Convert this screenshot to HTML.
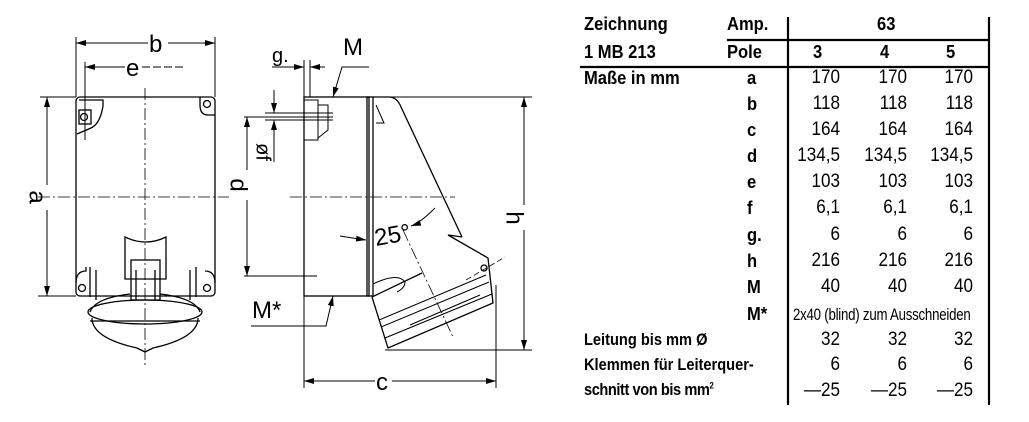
<!DOCTYPE html>
<html><head><meta charset="utf-8"><style>
html,body{margin:0;padding:0;background:#fff;width:1029px;height:422px;overflow:hidden}
svg{position:absolute;left:0;top:0}
.t{position:absolute;font-family:"Liberation Sans",sans-serif;color:#000;white-space:nowrap}
.b{font-weight:bold;font-size:18px;transform:scaleX(0.92);transform-origin:left}
.v{font-size:19px;text-align:right;width:70px;transform:scaleX(0.9);transform-origin:right}
.l{font-size:17px;font-weight:bold;transform:scaleX(0.86);transform-origin:left}
</style></head><body>
<svg width="1029" height="422" viewBox="0 0 1029 422">
<defs><marker id="ar" viewBox="0 0 10 6" refX="10" refY="3" markerWidth="10" markerHeight="6" orient="auto-start-reverse" markerUnits="userSpaceOnUse"><path d="M0,0 L10,3 L0,6 z" fill="#000"/></marker></defs>
<g fill="none" stroke="#000" stroke-width="1.3">
<!-- front view -->
<rect x="76" y="97" width="139" height="199" rx="4"/>
<line x1="76" y1="37" x2="76" y2="97" stroke-width="1"/><line x1="215" y1="37" x2="215" y2="97" stroke-width="1"/>
<line x1="76" y1="43" x2="148" y2="43" marker-start="url(#ar)" stroke-width="1"/><line x1="168" y1="43" x2="215" y2="43" marker-end="url(#ar)" stroke-width="1"/>
<line x1="85" y1="67" x2="125" y2="67" marker-start="url(#ar)" stroke-width="1"/><line x1="142" y1="67" x2="185" y2="67" stroke-width="1" stroke-dasharray="8 3"/>
<line x1="85" y1="62" x2="85" y2="140" stroke-width="1"/>
<line x1="40" y1="97" x2="76" y2="97" stroke-width="1"/><line x1="38" y1="296" x2="76" y2="296" stroke-width="1"/>
<line x1="47" y1="97" x2="47" y2="185" marker-start="url(#ar)" stroke-width="1"/><line x1="47" y1="210" x2="47" y2="296" marker-end="url(#ar)" stroke-width="1"/>
<line x1="145" y1="88" x2="145" y2="368" stroke-width="0.8" stroke-dasharray="12 3 2 3"/>
<line x1="38" y1="197" x2="229" y2="197" stroke-width="0.8" stroke-dasharray="12 3 2 3"/>
<path d="M79,100 h24 v6 q-3,18 -12,22 l-14,6" /><rect x="79" y="110" width="12" height="14"/><circle cx="84" cy="117" r="3.5"/>
<path d="M200,97 v8 q0,10 8,10 h7"/><circle cx="207" cy="104" r="3.5"/>
<path d="M76,283 q0,-12 10,-12 v-4 M90,267 v30 M96,270 v30"/><circle cx="82" cy="288" r="3.5"/>
<path d="M215,283 q0,-12 -10,-12 M196,267 v30 M190,270 v30"/><circle cx="207" cy="288" r="3.5"/>
<path d="M125,237 v42 h41 v-42 q-20,10 -41,0 z"/>
<rect x="131" y="260" width="29" height="40"/><line x1="136" y1="270" x2="136" y2="300"/><line x1="155" y1="270" x2="155" y2="300"/>
<path d="M90,312 q5,-14 40,-18 M200,312 q-5,-14 -40,-18"/>
<ellipse cx="145" cy="312" rx="57" ry="12"/>
<path d="M92,318 q0,20 45,30 l8,4 l8,-4 q45,-10 45,-30"/>
<line x1="90" y1="321" x2="200" y2="321"/>
<!-- side view -->
<rect x="304" y="97" width="65" height="199"/>
<rect x="367" y="97" width="6" height="199"/>
<path d="M304,100 h14 v40 h-14 M318,105 h10 v25 l-10,8" stroke-width="1"/>
<path d="M373,97 h16 q8,0 12,10 L462,237"/>
<path d="M376,105 l8,18 h-8" stroke-width="1"/>
<path d="M373,284 q25,-12 32,-2 q0,6 -8,10" stroke-width="1"/>
<path d="M372,297 L422,273 M372,297 L388,348 L493,303 L488,258 L448,235 L462,237"/>
<path d="M379,320 L486,275 M381,327 L489,282 M385,338 L492,294 M410,325 L480,295" stroke-width="1"/>
<circle cx="484" cy="268" r="3"/>
<line x1="304" y1="296" x2="304" y2="388" stroke-width="1"/><line x1="496" y1="285" x2="496" y2="388" stroke-width="1"/>
<line x1="304" y1="381" x2="375" y2="381" marker-start="url(#ar)" stroke-width="1"/><line x1="392" y1="381" x2="496" y2="381" marker-end="url(#ar)" stroke-width="1"/>
<line x1="391" y1="97" x2="532" y2="97" stroke-width="1"/><line x1="385" y1="350" x2="532" y2="350" stroke-width="1"/>
<line x1="524" y1="97" x2="524" y2="205" marker-start="url(#ar)" stroke-width="1"/><line x1="524" y1="230" x2="524" y2="350" marker-end="url(#ar)" stroke-width="1"/>
<line x1="244" y1="117" x2="333" y2="117" stroke-width="1"/><line x1="244" y1="276" x2="317" y2="276" stroke-width="1"/>
<line x1="247" y1="117" x2="247" y2="170" marker-start="url(#ar)" stroke-width="1"/><line x1="247" y1="200" x2="247" y2="276" marker-end="url(#ar)" stroke-width="1"/>
<line x1="265" y1="113" x2="333" y2="113" stroke-width="1"/><line x1="265" y1="120" x2="333" y2="120" stroke-width="1"/>
<line x1="274" y1="90" x2="274" y2="113" marker-end="url(#ar)" stroke-width="1"/><line x1="274" y1="140" x2="274" y2="120" marker-end="url(#ar)" stroke-width="1"/>
<line x1="274" y1="140" x2="274" y2="162" stroke-width="1"/>
<line x1="304" y1="60" x2="304" y2="97" stroke-width="1"/><line x1="310" y1="60" x2="310" y2="97" stroke-width="1"/>
<line x1="272" y1="67" x2="304" y2="67" marker-end="url(#ar)" stroke-width="1"/><line x1="325" y1="67" x2="310" y2="67" marker-end="url(#ar)" stroke-width="1"/>
<polyline points="369,67 342,67 333,97" stroke-width="1" marker-end="url(#ar)"/>
<polyline points="251,326 326,326 333,296" stroke-width="1" marker-end="url(#ar)"/>
<line x1="290" y1="197" x2="455" y2="197" stroke-width="0.8" stroke-dasharray="12 3 2 3"/>
<line x1="403" y1="230" x2="453" y2="337" stroke-width="0.8" stroke-dasharray="12 3 2 3"/>
<path d="M340,236 q12,2 26,4" stroke-width="1" marker-end="url(#ar)"/>
<path d="M435,208 q-15,15 -24,18" stroke-width="1" marker-end="url(#ar)"/>
<line x1="466" y1="280" x2="505" y2="257" stroke-width="0.8" stroke-dasharray="6 3"/>
</g>
<g font-family="Liberation Sans,sans-serif" font-size="24">
<text x="149" y="52">b</text><text x="126" y="76">e</text>
<text x="36" y="197" transform="rotate(90 36 197)" text-anchor="middle" dominant-baseline="middle" font-size="24">a</text>
<text x="237" y="185" transform="rotate(90 237 185)" text-anchor="middle" dominant-baseline="middle">d</text>
<text x="262" y="152" transform="rotate(90 262 152)" text-anchor="middle" dominant-baseline="middle" font-size="20">øf</text>
<text x="513" y="218" transform="rotate(90 513 218)" text-anchor="middle" dominant-baseline="middle">h</text>
<text x="376" y="390">c</text>
<text x="272" y="62" font-size="20">g.</text>
<text x="343" y="55">M</text>
<text x="252" y="318">M*</text>
<text x="376" y="246" transform="rotate(-10 376 246)">25°</text>
</g>
<g stroke="#000" stroke-width="2.2">
<line x1="788" y1="17" x2="788" y2="405"/><line x1="989" y1="17" x2="989" y2="405"/>
<line x1="727" y1="40" x2="990" y2="40"/><line x1="580" y1="67" x2="990" y2="67"/>
</g>
</svg>
<div class="t b" style="left:584px;top:14px">Zeichnung</div>
<div class="t b" style="left:727px;top:14px">Amp.</div>
<div class="t b" style="left:877px;top:14px">63</div>
<div class="t b" style="left:584px;top:42px">1 MB 213</div>
<div class="t b" style="left:727px;top:42px">Pole</div>
<div class="t b" style="left:813px;top:42px">3</div><div class="t b" style="left:880px;top:42px">4</div><div class="t b" style="left:946px;top:42px">5</div>
<div class="t b" style="left:584px;top:68px">Maße in mm</div>
<div class="t b" style="left:747px;top:68px">a</div>
<div class="t b" style="left:747px;top:94px">b</div>
<div class="t b" style="left:747px;top:120px">c</div>
<div class="t b" style="left:747px;top:146px">d</div>
<div class="t b" style="left:747px;top:172px">e</div>
<div class="t b" style="left:747px;top:198px">f</div>
<div class="t b" style="left:747px;top:225px">g.</div>
<div class="t b" style="left:747px;top:251px">h</div>
<div class="t b" style="left:747px;top:277px">M</div>
<div class="t b" style="left:747px;top:304px">M*</div>
<div class="t l" style="left:584px;top:330px">Leitung bis mm Ø</div>
<div class="t l" style="left:584px;top:355px">Klemmen für Leiterquer-</div>
<div class="t l" style="left:584px;top:380px;letter-spacing:-0.5px">schnitt von bis mm<sup style="font-size:9px">2</sup></div>
<div class="t" style="left:793px;top:305px;font-size:17px;transform:scaleX(0.78);transform-origin:left;letter-spacing:-0.3px">2x40 (blind) zum Ausschneiden</div>
<div id="vals"></div>
<script>
var rows=[[67,"170"],[93,"118"],[119,"164"],[145,"134,5"],[171,"103"],[197,"6,1"],[224,"6"],[250,"216"],[276,"40"],[329,"32"],[354,"6"],[380,"—25"]];
var xs=[840,907,973],h="";
rows.forEach(function(r){xs.forEach(function(x){h+='<div class="t v" style="left:'+(x-70)+'px;top:'+r[0]+'px">'+r[1]+'</div>';});});
document.getElementById("vals").innerHTML=h;
</script>
</body></html>
